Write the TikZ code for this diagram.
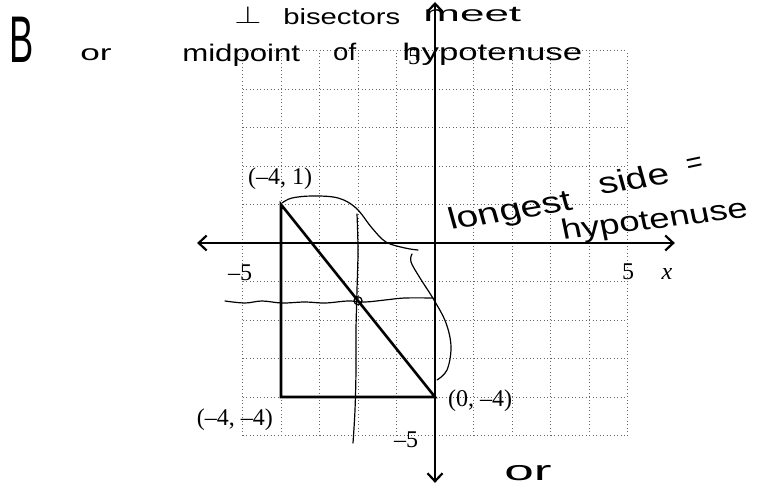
\documentclass[tikz,border=0pt]{standalone}
\usepackage{fontspec}
\setmainfont{Liberation Serif}
\newfontfamily\hwfont{Liberation Sans}
\usetikzlibrary{arrows.meta}
\begin{document}
\begin{tikzpicture}[x=1pt,y=-1pt,
  gridline/.style={draw=black!60, line width=0.7pt, dash pattern=on 1pt off 2.5pt},
  axisline/.style={line width=2.6pt, {Straight Barb[length=8pt,width=15pt,line width=2.2pt]}-{Straight Barb[length=8pt,width=15pt,line width=2.2pt]}},
  triline/.style={line width=2.6pt, line join=miter},
  hand/.style={line width=1.2pt, line cap=round, line join=round},
  lbl/.style={font=\fontsize{24}{28}\selectfont, inner sep=0pt},
  hw/.style={font=\hwfont\fontsize{#1}{#1}\selectfont, inner sep=0pt, anchor=base west},
]
\useasboundingbox (0,0) rectangle (760,487);

\begin{scope}[shift={(435,243)}, x=38.5pt, y=38.5pt]
  \draw[gridline] (-5,-5) grid[step=1] (5,5);
  \coordinate (xl) at (-6.18,0);
  \coordinate (xr) at (6.23,0);
  \coordinate (yt) at (0,6.26);
  \coordinate (yb) at (0,-6.23);
  \coordinate (A) at (-4,1);
  \coordinate (B) at (-4,-4);
  \coordinate (C) at (0,-4);
  \coordinate (M) at (-2,-1.5);
  \draw[axisline] (xl) -- (xr);
  \draw[axisline] (yt) -- (yb);
  \draw[triline] (A) -- (B) -- (C) -- cycle;
  \node[circle, draw, line width=1.3pt, minimum size=8pt, inner sep=0pt] (Mc) at (M) {};
\end{scope}

% printed labels
\node[lbl] (lA) at (280,179) {(–4, 1)};
\node[lbl] (lC) at (480,401) {(0, –4)};
\node[lbl, anchor=east] (lB) at (273,420) {(–4, –4)};
\node[lbl] (xm5) at (240,273) {–5};
\node[lbl] (xp5) at (628,272) {5};
\node[lbl] (xlab) at (667,274) {\itshape x};
\node[lbl] (ym5) at (406,440) {–5};
\node[lbl] (yp5) at (414,57) {5};

% handwritten strokes
\draw[hand] plot[smooth, tension=0.6] coordinates {(282,203) (292,198) (313,196) (338,198) (356,208) (372,228) (386,242) (405,248) (418,250)};
\draw[hand] plot[smooth, tension=0.6] coordinates {(412,254) (411,262) (420,278) (434,300) (446,323) (451,347) (447,370) (437,380)};
\draw[hand] plot[smooth, tension=0.6] coordinates {(225,301) (245,303) (262,301) (282,303) (305,302) (325,303) (348,301) (365,302) (385,300) (405,298) (433,298)};
\draw[hand] plot[smooth, tension=0.6] coordinates {(357,214) (358,250) (357,290) (356,330) (356,370) (355,410) (353,443)};

% handwritten text
\node[hw=66, xscale=0.55] (tB) at (9,63) {B};
\node[hw=22, xscale=1.6] (tor1) at (80,61) {or};
\node[hw=24, xscale=1.3] (tmid) at (182,62) {midpoint};
\node[hw=24, xscale=1.15] (tof) at (333,60) {of};
\node[hw=24, xscale=1.45] (thyp1) at (402,60) {hypotenuse};
\node[font=\fontsize{30}{30}\selectfont, inner sep=0pt, xscale=1.4, anchor=base] (tperp) at (248,24) {$\perp$};
\node[hw=22, xscale=1.33] (tbis) at (283,25) {bisectors};
\node[hw=22, xscale=2.0] (tmeet) at (423,22) {meet};
\node[hw=30, xscale=1.3, rotate=12] (tlong) at (451,230) {longest};
\node[hw=30, xscale=1.3, rotate=12] (tside) at (601,195) {side};
\node[hw=28, rotate=12] (teq) at (688,174) {=};
\node[hw=28, xscale=1.3, rotate=9] (thyp2) at (563,240) {hypotenuse};
\node[hw=28, xscale=1.9] (tor2) at (504,480) {or};
\end{tikzpicture}
\end{document}
